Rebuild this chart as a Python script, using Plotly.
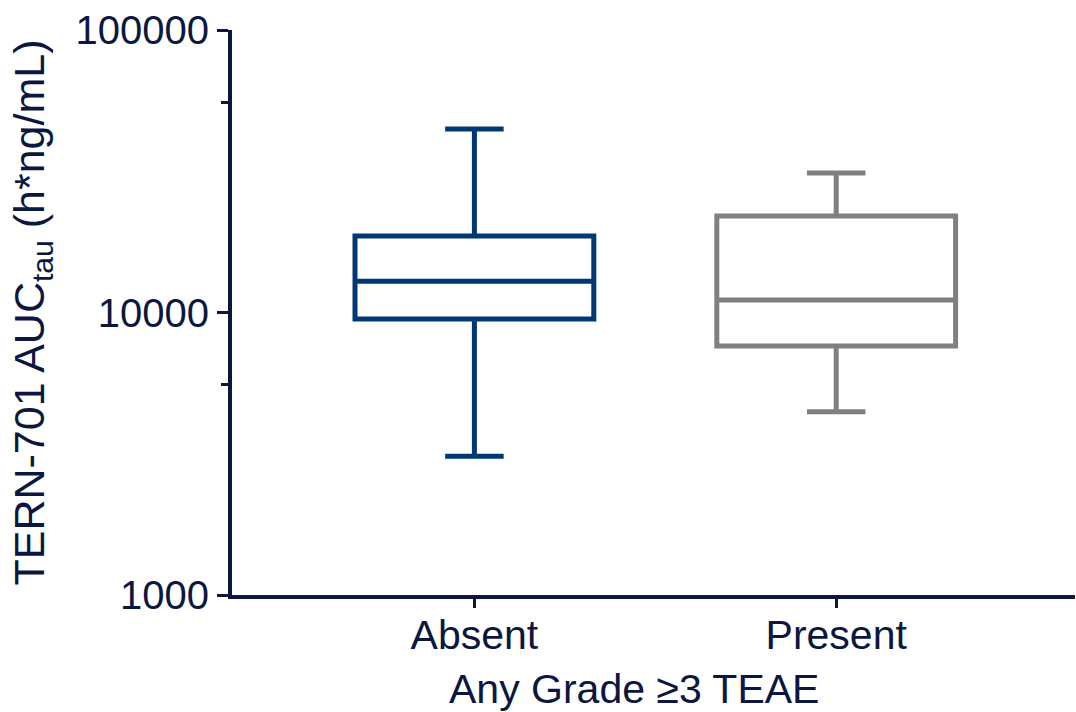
import plotly.graph_objects as go

categories = ["Absent", "Present"]
lower_whisker = [3100, 4450]
q1_vals = [9480, 7610]
medians = [12900, 11070]
q3_vals = [18650, 21950]
upper_whisker = [44600, 31200]
box_colors = ["#003873", "#808080"]

y_tickvals = [1000, 10000, 100000]
y_ticktext = ["1000", "10000", "100000"]
y_minor_vals = [5560, 55600]

text_color = "#0b1740"
font_family = "Liberation Sans, Arial, sans-serif"

fig = go.Figure()
for i, cat in enumerate(categories):
    fig.add_trace(go.Box(
        x=[cat],
        q1=[q1_vals[i]],
        median=[medians[i]],
        q3=[q3_vals[i]],
        lowerfence=[lower_whisker[i]],
        upperfence=[upper_whisker[i]],
        width=0.66,
        whiskerwidth=0.245,
        line=dict(color=box_colors[i], width=5),
        fillcolor="white",
        boxpoints=False,
        hoverinfo="skip",
        showlegend=False,
    ))

fig.update_layout(
    width=1076,
    height=712,
    margin=dict(l=232, r=1, t=30, b=117),
    paper_bgcolor="white",
    plot_bgcolor="white",
    font=dict(family=font_family, size=40, color=text_color),
    showlegend=False,
)

fig.update_xaxes(
    type="category",
    range=[-0.67, 1.66],
    showgrid=False,
    zeroline=False,
    showline=True,
    linecolor=text_color,
    linewidth=4,
    ticks="outside",
    ticklen=9,
    tickwidth=3,
    tickcolor=text_color,
    ticklabelstandoff=-8,
    tickfont=dict(size=41, color=text_color),
)

fig.add_annotation(
    text="Any Grade ≥3 TEAE",
    xref="paper", yref="paper",
    x=(634 - 232) / 843, y=(595 - 689) / 565,
    xanchor="center", yanchor="middle",
    showarrow=False,
    font=dict(size=41, color=text_color, family=font_family),
)

fig.update_yaxes(
    type="log",
    range=[3, 5],
    showgrid=False,
    zeroline=False,
    showline=True,
    linecolor=text_color,
    linewidth=4,
    ticks="outside",
    ticklen=11,
    tickwidth=3,
    tickcolor=text_color,
    tickvals=y_tickvals,
    ticktext=y_ticktext,
    tickfont=dict(size=40, color=text_color),
    minor=dict(tickvals=y_minor_vals, ticks="outside", ticklen=7, tickwidth=3, tickcolor=text_color),
    title=dict(text="TERN-701 AUC<sub>tau</sub> (h*ng/mL)", font=dict(size=43, color=text_color), standoff=18),
)

fig.write_html("out.html")
